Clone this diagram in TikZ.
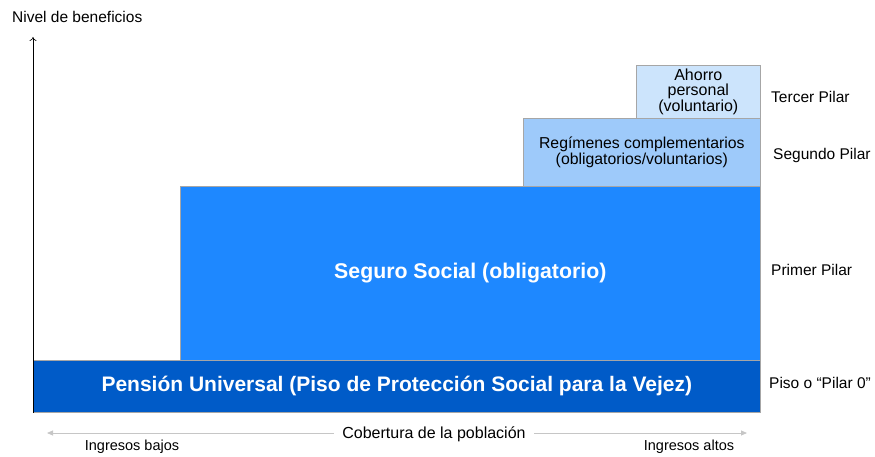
\documentclass[tikz,border=0pt]{standalone}
\usepackage{fontspec}
\setmainfont{Liberation Sans}
\usetikzlibrary{arrows.meta}
\definecolor{pisoblue}{RGB}{0,91,200}
\definecolor{segblue}{RGB}{30,136,255}
\definecolor{regblue}{RGB}{158,202,250}
\definecolor{ahoblue}{RGB}{204,228,252}

\begin{document}
\begin{tikzpicture}[x=1pt, y=-1pt, every node/.style={font=\fontsize{15.5}{18}\selectfont},
	pilar/.style={draw=gray!70, line width=0.6pt, anchor=north west, inner sep=0pt, align=center},
	lbl/.style={anchor=west, inner sep=0pt}]
	\useasboundingbox (0,0) rectangle (875,457);
	% columnas
	\node[pilar, fill=pisoblue, minimum width=727pt, minimum height=52pt, text=white, font=\bfseries\fontsize{21}{24}\selectfont] (piso) at (33,360) {Pensión Universal (Piso de Protección Social para la Vejez)};
	\node[pilar, fill=segblue, minimum width=580pt, minimum height=174pt, text=white, font=\bfseries\fontsize{21.3}{24}\selectfont] (seguro) at (180,186) {Seguro Social (obligatorio)};
	\node[pilar, fill=regblue, minimum width=237pt, minimum height=68pt, font=\fontsize{15.8}{16}\selectfont] (reg) at (523,118) {Regímenes complementarios\\(obligatorios/voluntarios)};
	\node[pilar, fill=ahoblue, minimum width=124pt, minimum height=53pt, font=\fontsize{16}{14.5}\selectfont] (aho) at (636,65) {Ahorro\\personal\\(voluntario)};
	% etiquetas de los pilares
	\node[lbl] (p3) at (771,97) {Tercer Pilar};
	\node[lbl] (p2) at (773,155) {Segundo Pilar};
	\node[lbl] (p1) at (771,270) {Primer Pilar};
	\node[lbl] (p0) at (769,383) {Piso o “Pilar 0”};
	% ejes
	\node[anchor=west, inner sep=0pt] (nivel) at (12,17) {Nivel de beneficios};
	\coordinate (ytop) at (33,37);
	\draw[line width=0.6pt, -{To[length=4pt,width=7pt]}] (piso.south west) -- (ytop);
	\coordinate (xl) at (47,433);
	\coordinate (xr) at (747,433);
	\draw[gray!45, line width=0.8pt, {Triangle[length=6pt,width=5pt]}-{Triangle[length=6pt,width=5pt]}] (xl) -- (xr);
	\node[fill=white, inner xsep=8pt, font=\fontsize{16}{18}\selectfont] (cob) at (434,434) {Cobertura de la población};
	\node[font=\fontsize{14.5}{16}\selectfont] (bajos) at (132,447) {Ingresos bajos};
	\node[font=\fontsize{14.5}{16}\selectfont] (altos) at (689,447) {Ingresos altos};
\end{tikzpicture}
\end{document}
